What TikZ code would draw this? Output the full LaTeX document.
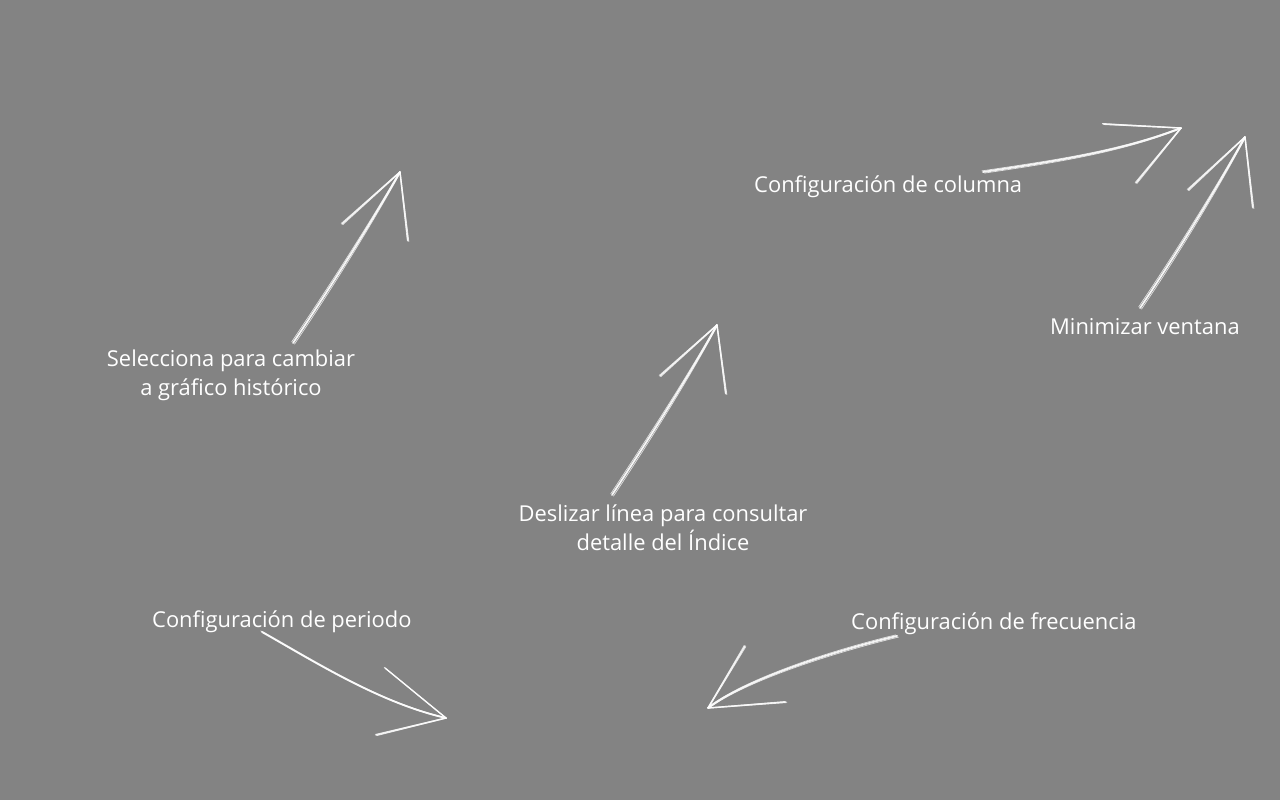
\documentclass[tikz,border=0pt]{standalone}
\usepackage{fontspec}
\setmainfont{Open Sans}
\begin{document}
\begin{tikzpicture}[x=1pt,y=-1pt,
  chalk/.style={draw=white, line width=1.8pt, line cap=round, opacity=0.9},
  chalkthin/.style={draw=white, line width=0.7pt, line cap=round, opacity=0.75},
  lbl/.style={text=white, font=\fontsize{21.9}{29}\selectfont, align=center, inner sep=0pt}]
\definecolor{bg}{RGB}{131,131,131}
\fill[bg] (0,0) rectangle (1280,800);
\useasboundingbox (0,0) rectangle (1280,800);

\newcommand{\chalkline}[4]{%
  \draw[chalk] (#1) .. controls (#3) and (#4) .. (#2);
  \draw[chalkthin] ([shift={(1.5,1.1)}]#1) .. controls ([shift={(1.7,1.2)}]#3) and ([shift={(1,0.8)}]#4) .. ([shift={(0.5,0.4)}]#2);
  \draw[chalkthin] ([shift={(-1.3,-1.1)}]#1) .. controls ([shift={(-1.5,-1)}]#3) and ([shift={(-0.9,-0.7)}]#4) .. ([shift={(-0.4,-0.5)}]#2);
  \draw[chalkthin, opacity=0.5] ([shift={(0.4,-0.6)}]#1) .. controls ([shift={(0.6,-0.8)}]#3) and ([shift={(0.4,-0.4)}]#4) .. ([shift={(0.2,-0.2)}]#2);
}
\newcommand{\chalkstraight}[2]{%
  \draw[chalk, line width=1.4pt] (#1) -- (#2);
  \draw[chalkthin] ([shift={(0.9,0.6)}]#1) -- ([shift={(0.3,0.3)}]#2);
  \draw[chalkthin] ([shift={(-0.8,-0.6)}]#1) -- ([shift={(-0.3,-0.2)}]#2);
}

% labels
\node[lbl] (sel) at (231,375.5) {Selecciona para cambiar\\a gráfico histórico};
\node[lbl, anchor=west] (col) at (754,187) {Configuración de columna};
\node[lbl, anchor=west] (min) at (1050,327) {Minimizar ventana};
\node[lbl] (des) at (663,527.5) {Deslizar línea para consultar\\detalle del Índice};
\node[lbl, anchor=west] (per) at (152,622) {Configuración de periodo};
\node[lbl, anchor=west] (fre) at (851,624) {Configuración de frecuencia};

% arrow 1
\coordinate (t1) at (293,343); \coordinate (p1) at (400,172);
\coordinate (l1) at (342,224); \coordinate (r1) at (408,241);
\coordinate (a1) at (330,288); \coordinate (b1) at (370,225);
\chalkline{t1}{p1}{a1}{b1}
\chalkstraight{l1}{p1}
\chalkstraight{r1}{p1}

% arrow 2
\coordinate (t2) at (612,495); \coordinate (p2) at (717,325);
\coordinate (l2) at (660,376); \coordinate (r2) at (726,394);
\coordinate (a2) at (648,440); \coordinate (b2) at (688,378);
\chalkline{t2}{p2}{a2}{b2}
\chalkstraight{l2}{p2}
\chalkstraight{r2}{p2}

% arrow 3
\coordinate (t3) at (983,172); \coordinate (p3) at (1181,128);
\coordinate (l3) at (1103,124); \coordinate (r3) at (1136,183);
\coordinate (a3) at (1050,162); \coordinate (b3) at (1120,152);
\chalkline{t3}{p3}{a3}{b3}
\chalkstraight{l3}{p3}
\chalkstraight{r3}{p3}

% arrow 4
\coordinate (t4) at (1140,308); \coordinate (p4) at (1245,137);
\coordinate (l4) at (1188,190); \coordinate (r4) at (1253,208);
\coordinate (a4) at (1177,253); \coordinate (b4) at (1216,190);
\chalkline{t4}{p4}{a4}{b4}
\chalkstraight{l4}{p4}
\chalkstraight{r4}{p4}

% arrow 5
\coordinate (t5) at (262,632); \coordinate (p5) at (446,718);
\coordinate (l5) at (385,668); \coordinate (r5) at (376,735);
\coordinate (a5) at (315,662); \coordinate (b5) at (380,703);
\chalkline{t5}{p5}{a5}{b5}
\chalkstraight{l5}{p5}
\chalkstraight{r5}{p5}

% arrow 6
\coordinate (t6) at (897,636); \coordinate (p6) at (708,708);
\coordinate (l6) at (745,646); \coordinate (r6) at (786,702);
\coordinate (a6) at (830,652); \coordinate (b6) at (745,680);
\chalkline{t6}{p6}{a6}{b6}
\chalkstraight{l6}{p6}
\chalkstraight{r6}{p6}
\end{tikzpicture}
\end{document}
